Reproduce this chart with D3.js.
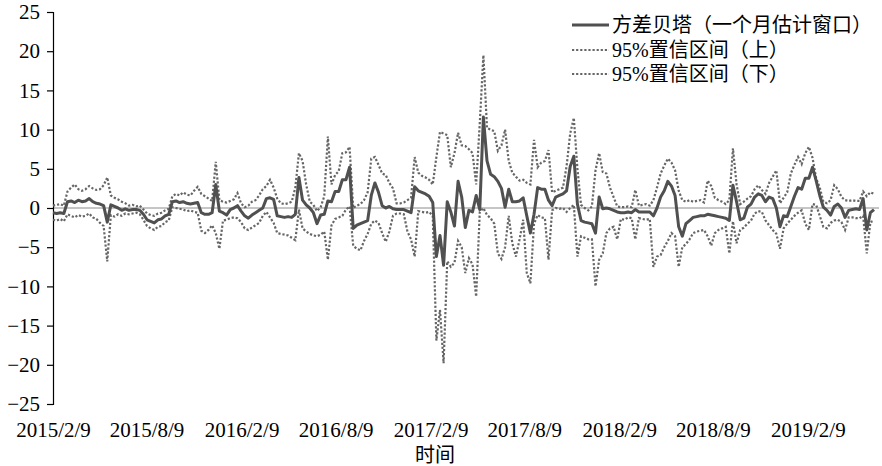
<!DOCTYPE html>
<html>
<head>
<meta charset="utf-8">
<script src="https://cdn.jsdelivr.net/npm/d3@7"></script>
<style>
  html, body { margin: 0; padding: 0; background: #fff; }
  svg { display: block; }
  text { font-family: "Liberation Serif", "Noto Sans CJK SC", serif; fill: #000; }
</style>
</head>
<body>
<svg id="chart" width="882" height="466"></svg>
<script>
// Weekly observations starting on the first trading Monday
const startDate = "2015/2/9";

// Variance beta estimated over a one-month rolling window
const beta = [
  -0.6,-0.7,-0.6,-0.7,0.8,0.9,0.7,1.0,0.8,0.9,
  1.2,0.8,0.6,0.5,0.3,-1.8,0.4,0.2,0.0,-0.3,
  -0.1,-0.3,-0.2,-0.2,-0.3,-0.8,-1.5,-1.7,-1.9,-1.5,
  -1.4,-1.0,-0.8,0.8,0.9,0.7,0.8,0.6,0.5,0.6,
  0.7,-0.6,-0.8,-0.8,-0.6,3.0,-0.4,-0.6,-0.9,-0.2,
  0.0,0.3,-0.4,-1.0,-1.3,-0.9,-0.6,-0.3,0.0,1.2,
  1.3,1.1,-1.0,-1.1,-1.2,-1.1,-1.2,-0.8,3.9,1.0,
  0.4,0.0,-0.6,-2.0,-0.9,-0.8,0.9,0.8,2.1,2.1,
  3.6,3.6,5.2,-2.6,-2.2,-2.0,-1.8,-1.6,1.6,3.2,
  2.0,0.3,0.0,0.2,-0.1,-0.2,-0.2,-0.2,-0.4,-0.6,
  2.7,2.2,2.0,1.8,1.5,0.7,-6.2,-3.5,-7.3,0.8,
  -0.5,-2.3,3.4,1.4,-2.5,-0.3,-0.5,1.6,-0.2,11.6,
  6.0,4.3,4.0,3.4,2.5,0.1,2.4,0.8,0.8,0.9,
  1.3,-1.0,-3.2,-0.8,2.6,2.4,2.4,1.0,0.3,1.4,
  1.6,1.8,2.2,5.3,6.6,0.5,-1.6,-1.8,-1.9,-2.0,
  -3.2,1.4,-0.1,0.0,-0.1,-0.3,-0.5,-0.6,-0.6,-0.5,
  -0.6,-0.2,-0.5,-0.5,-0.5,-0.5,-1.0,0.0,1.4,2.2,
  3.4,2.8,1.6,-2.4,-3.6,-2.0,-1.6,-1.2,-1.1,-1.0,
  -1.0,-0.8,-0.9,-1.0,-1.1,-1.2,-1.3,-1.6,2.9,0.8,
  -1.5,-1.3,0.1,0.5,1.4,1.8,1.6,0.8,1.4,1.2,
  0.0,-2.4,-1.0,-1.1,0.2,1.5,2.6,2.4,3.8,3.8,
  5.2,3.5,1.6,0.1,-0.3,-0.9,0.2,0.5,0.0,-1.2,
  -0.3,-0.2,-0.1,-0.2,1.2,-2.8,-0.6,-0.2
];

// Upper bound of the 95% confidence interval
const upper = [
  0.3,0.4,0.5,0.3,2.1,2.6,3.0,2.4,2.2,2.4,
  2.8,2.5,2.3,2.4,2.9,3.9,1.6,1.3,1.1,0.8,
  0.6,0.3,0.4,0.2,0.3,-0.2,-0.7,-0.9,-1.0,-0.7,
  -0.6,-0.3,-0.1,1.5,1.8,1.6,2.0,1.7,1.6,2.2,
  2.7,1.8,1.5,1.2,0.9,5.9,1.0,0.8,0.7,0.9,
  1.1,1.9,0.6,0.1,0.3,0.8,1.0,1.6,2.4,2.8,
  3.6,2.6,1.2,0.6,0.5,0.6,0.8,2.6,7.0,6.0,
  3.0,0.8,0.4,-0.4,0.1,1.5,9.1,3.0,4.2,4.7,
  7.0,7.1,7.8,0.0,0.3,0.5,1.0,2.0,6.3,6.5,
  5.5,4.4,4.2,3.2,2.5,0.6,0.6,0.7,1.0,1.3,
  6.5,4.5,4.1,3.9,3.6,3.0,6.5,9.7,9.5,9.3,
  5.2,7.0,9.6,8.0,7.9,7.5,7.0,3.0,10.8,19.5,
  10.2,10.0,9.8,7.3,8.0,10.0,6.0,4.5,4.0,3.5,
  3.6,3.2,3.0,8.7,5.2,5.8,6.0,7.4,2.0,2.2,
  2.4,2.6,5.3,9.5,11.5,5.0,0.4,0.0,-0.3,0.2,
  4.8,7.0,4.6,4.4,2.6,1.4,0.2,0.1,0.1,0.2,
  0.1,2.3,0.3,0.4,0.5,0.3,1.0,2.6,4.4,5.4,
  6.3,5.8,4.8,2.2,1.0,0.8,1.0,0.8,0.9,1.0,
  0.7,3.5,2.8,1.3,1.0,0.8,0.5,1.0,7.6,3.0,
  0.5,0.8,1.2,1.5,2.4,2.9,2.3,1.8,3.2,4.0,
  4.8,0.6,1.3,2.0,4.4,5.5,6.5,5.6,7.0,7.8,
  6.4,3.8,2.6,0.8,0.6,1.0,2.9,2.4,1.4,1.0,
  0.9,1.0,0.9,0.9,2.1,1.5,2.0,1.8
];

// Lower bound of the 95% confidence interval
const lower = [
  -1.5,-1.6,-1.4,-1.7,-0.8,-1.0,-1.2,-0.9,-1.1,-1.0,
  -0.7,-1.2,-1.4,-1.9,-2.3,-6.8,-0.9,-1.1,-0.8,-1.0,
  -0.7,-0.8,-0.7,-0.6,-0.8,-1.5,-2.3,-2.6,-2.8,-2.4,
  -2.3,-1.8,-1.6,0.1,0.0,-0.1,-0.2,-0.4,-0.3,-0.5,
  -0.6,-2.9,-3.2,-2.8,-2.2,-3.2,-5.2,-1.6,-1.5,-1.3,
  -1.2,-1.3,-1.8,-2.6,-2.8,-2.5,-2.2,-1.9,-1.0,-0.5,
  -1.2,-1.9,-3.2,-3.3,-3.4,-3.5,-3.8,-4.1,-0.2,-2.6,
  -3.0,-3.3,-3.5,-3.6,-3.4,-3.0,-6.6,-2.2,-1.4,-1.2,
  -1.0,-0.2,0.2,-4.8,-5.2,-5.4,-4.2,-3.3,-2.0,-1.6,
  -1.9,-3.2,-4.3,-3.0,-1.0,-0.7,-0.7,-0.8,-3.0,-4.0,
  -6.2,-0.4,-0.5,-0.6,-0.5,-1.0,-16.9,-13.0,-19.8,-6.8,
  -7.5,-7.0,-4.2,-5.0,-8.3,-6.4,-7.2,-11.3,-0.5,0.0,
  -0.9,-1.3,-2.0,-5.8,-6.5,-5.0,-1.0,-4.5,-6.2,-4.0,
  -1.5,-8.3,-9.6,-2.0,-0.9,-1.2,-1.3,-6.6,-0.3,0.0,
  -0.1,0.0,-0.5,0.0,0.4,-6.2,-3.6,-3.8,-4.0,-4.0,
  -10.0,-6.6,-5.8,-3.2,-2.6,-2.4,-4.0,-1.4,-1.5,-1.2,
  -1.3,-4.0,-1.3,-1.4,-1.5,-1.4,-7.5,-6.2,-6.0,-5.0,
  -4.2,-3.2,-3.6,-7.5,-5.0,-4.6,-4.0,-3.2,-3.0,-2.9,
  -2.8,-3.6,-4.8,-3.2,-2.8,-2.6,-2.4,-5.8,-1.7,-4.5,
  -2.8,-2.5,-2.0,-1.6,-0.7,-0.4,-0.5,-1.6,-2.2,-2.8,
  -3.3,-5.2,-2.6,-2.0,-1.5,-1.0,-0.6,-0.3,-2.0,-2.8,
  0.5,0.4,-1.0,-2.4,-2.6,-1.9,-1.6,-1.5,-1.8,-2.8,
  -1.2,-1.2,-1.3,-1.3,-1.0,-5.8,-1.8,-1.6
];

const xTickLabels = ["2015/2/9","2015/8/9","2016/2/9","2016/8/9","2017/2/9",
                     "2017/8/9","2018/2/9","2018/8/9","2019/2/9"];
const yTicks = [25, 20, 15, 10, 5, 0, -5, -10, -15, -20, -25];

const seriesNames = ["方差贝塔（一个月估计窗口）", "95%置信区间（上）", "95%置信区间（下）"];
const xTitle = "时间";

const parse = d3.timeParse("%Y/%m/%d");
const fmt = d3.timeFormat("%Y/%-m/%-d");
const t0 = parse(startDate);
const dates = beta.map((_, i) => d3.timeDay.offset(t0, 7 * i));

const svg = d3.select("#chart");
const plotLeft = 53, plotRight = 874, plotTop = 12, plotBottom = 404;

const x = d3.scaleTime()
  .domain([dates[0], dates[dates.length - 1]])
  .range([plotLeft, plotRight]);
const y = d3.scaleLinear().domain([-25, 25]).range([plotBottom, plotTop]);

// zero reference line
svg.append("line")
  .attr("x1", plotLeft).attr("x2", 879)
  .attr("y1", y(0)).attr("y2", y(0))
  .attr("stroke", "#8c8c8c").attr("stroke-width", 1);

// y axis
const yAxis = svg.append("g")
  .attr("transform", `translate(${plotLeft},0)`)
  .call(d3.axisLeft(y).tickValues(yTicks).tickSize(6).tickPadding(7).tickFormat(d3.format("d")));
yAxis.select(".domain").attr("stroke", "#000").attr("stroke-width", 1.2);
yAxis.selectAll(".tick line").attr("stroke", "#000").attr("stroke-width", 1.2);
yAxis.selectAll(".tick text")
  .style("font-family", '"Liberation Serif", serif')
  .style("font-size", "21px").attr("fill", "#000");

// x axis labels (no axis line)
const xAxis = svg.append("g")
  .attr("transform", `translate(0,${plotBottom})`)
  .call(d3.axisBottom(x).tickValues(xTickLabels.map(parse)).tickSize(0).tickPadding(18).tickFormat(fmt));
xAxis.select(".domain").remove();
xAxis.selectAll(".tick text")
  .style("font-family", '"Liberation Serif", serif')
  .style("font-size", "21px").attr("fill", "#000");

svg.append("text")
  .attr("x", 435).attr("y", 462)
  .attr("text-anchor", "middle")
  .style("font-size", "20px")
  .text(xTitle);

const line = d3.line()
  .x((d, i) => x(dates[i]))
  .y(d => y(d));

const dotted = { stroke: "#666666", width: 2.2, dash: "2.2,1.9" };

[upper, lower].forEach(s => {
  svg.append("path")
    .datum(s)
    .attr("d", line)
    .attr("fill", "none")
    .attr("stroke", dotted.stroke)
    .attr("stroke-width", dotted.width)
    .attr("stroke-dasharray", dotted.dash);
});

svg.append("path")
  .datum(beta)
  .attr("d", line)
  .attr("fill", "none")
  .attr("stroke", "#505050")
  .attr("stroke-width", 3)
  .attr("stroke-linejoin", "round");

// legend
const legend = svg.append("g");
const rowsY = [25, 50, 74];
seriesNames.forEach((name, i) => {
  const ln = legend.append("line")
    .attr("x1", 572).attr("x2", 609)
    .attr("y1", rowsY[i]).attr("y2", rowsY[i]);
  if (i === 0) {
    ln.attr("stroke", "#505050").attr("stroke-width", 3);
  } else {
    ln.attr("stroke", dotted.stroke).attr("stroke-width", dotted.width)
      .attr("stroke-dasharray", dotted.dash);
  }
  legend.append("text")
    .attr("x", 612).attr("y", rowsY[i])
    .attr("dominant-baseline", "central")
    .style("font-size", "20px")
    .text(name);
});
</script>
</body>
</html>
